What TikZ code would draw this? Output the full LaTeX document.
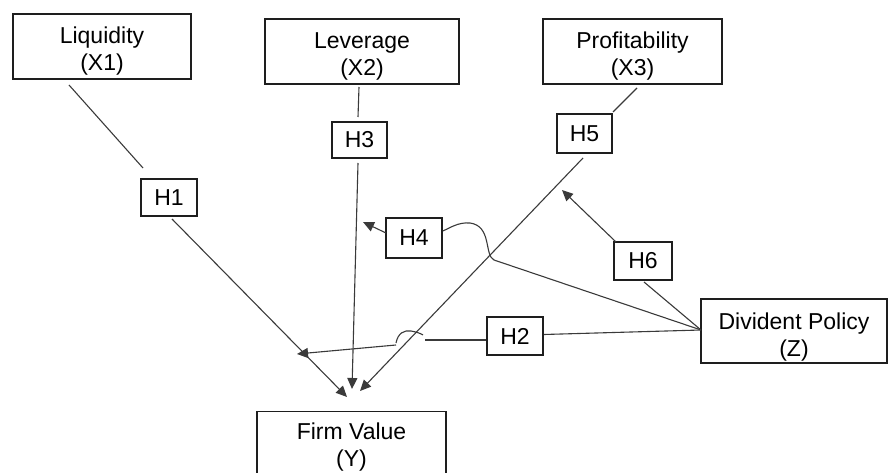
\documentclass[tikz,border=0pt]{standalone}
\usepackage{fontspec}
\setmainfont{Liberation Sans}
\usetikzlibrary{arrows.meta}
\definecolor{edge}{HTML}{3A3A3A}
\definecolor{frame}{HTML}{1E1E1E}
\begin{document}
\begin{tikzpicture}[x=1pt,y=-1pt,
  bigbox/.style={draw=frame, line width=1.5pt, inner sep=0pt},
  boxtext/.style={align=center, inner sep=0pt, yshift=-5pt,
    font=\fontsize{23}{27}\selectfont},
  hbox/.style={draw=frame, line width=1.5pt, inner sep=0pt,
    font=\fontsize{23}{26}\selectfont},
  link/.style={draw=edge, line width=1.1pt},
  arr/.style={link, -{Triangle[length=11pt,width=10pt]}}
]
\useasboundingbox (0,0) rectangle (888,473);
% main boxes
\node[bigbox, minimum width=178pt, minimum height=65pt,
  label={[boxtext]center:Liquidity\\(X1)}] (liq) at (102,46.5) {};
\node[bigbox, minimum width=194pt, minimum height=65pt,
  label={[boxtext]center:Leverage\\(X2)}] (lev) at (362,51.5) {};
\node[bigbox, minimum width=179pt, minimum height=65pt,
  label={[boxtext]center:Profitability\\(X3)}] (prof) at (632.5,51.5) {};
\node[bigbox, minimum width=189pt, minimum height=62pt,
  label={[boxtext]center:Firm Value\\(Y)}] (firm) at (351.5,442.5) {};
\node[bigbox, minimum width=186pt, minimum height=64pt,
  label={[boxtext, yshift=-1pt]center:Divident Policy\\(Z)}] (div) at (794,331) {};
% hypothesis boxes
\node[hbox, minimum width=56pt, minimum height=37pt] (h1) at (169,197.5) {H1};
\node[hbox, minimum width=55pt, minimum height=36pt] (h3) at (359.5,140) {H3};
\node[hbox, minimum width=55pt, minimum height=39pt] (h5) at (584.5,133.5) {H5};
\node[hbox, minimum width=56pt, minimum height=40pt] (h4) at (414,238) {H4};
\node[hbox, minimum width=58pt, minimum height=38pt] (h6) at (643,261) {H6};
\node[hbox, minimum width=56pt, minimum height=38pt] (h2) at (515,336) {H2};
% free ends
\coordinate (liqo) at (69,85);   \coordinate (h1i) at (143,168);
\coordinate (h1o) at (172,219);  \coordinate (t1) at (347,397);
\coordinate (levo) at (359,87);  \coordinate (h3i) at (358,117);
\coordinate (h3o) at (358,163);  \coordinate (t3) at (352,389);
\coordinate (profo) at (637,88); \coordinate (h5i) at (613,112);
\coordinate (h5o) at (583,158);  \coordinate (t5) at (360,391);
\coordinate (divw) at (701,330);
\coordinate (h6o) at (644,282);  \coordinate (h6i) at (616,242); \coordinate (t6) at (562,190);
\coordinate (h4k) at (494,260);  \coordinate (h4o) at (386,233); \coordinate (t4) at (363,222);
\coordinate (h2g) at (425,340);  \coordinate (h2h) at (396,345); \coordinate (t2) at (297,354);
% H1
\draw[link] (liqo) -- (h1i);
\draw[arr] (h1o) -- (t1);
% H3
\draw[link] (levo) -- (h3i);
\draw[arr] (h3o) -- (t3);
% H5
\draw[link] (profo) -- (h5i);
\draw[arr] (h5o) -- (t5);
% H6
\draw[link] (divw) -- (h6o);
\draw[arr] (h6i) -- (t6);
% H4
\draw[link] (divw) -- (h4k) .. controls (484,255) and (492,226) .. (470,223)
  .. controls (458,222) and (450,228) .. (h4.east |- 0,231);
\draw[arr] (h4o) -- (t4);
% H2
\draw[link] (divw) -- (h2.east |- 0,334.5);
\draw[link] (h2.west |- 0,340) -- (h2g);
\draw[link] (396,343) .. controls (398,333) and (404,330) .. (411,331) .. controls (416,332) and (420,333) .. (423,335);
\draw[arr] (h2h) -- (t2);
\end{tikzpicture}
\end{document}
